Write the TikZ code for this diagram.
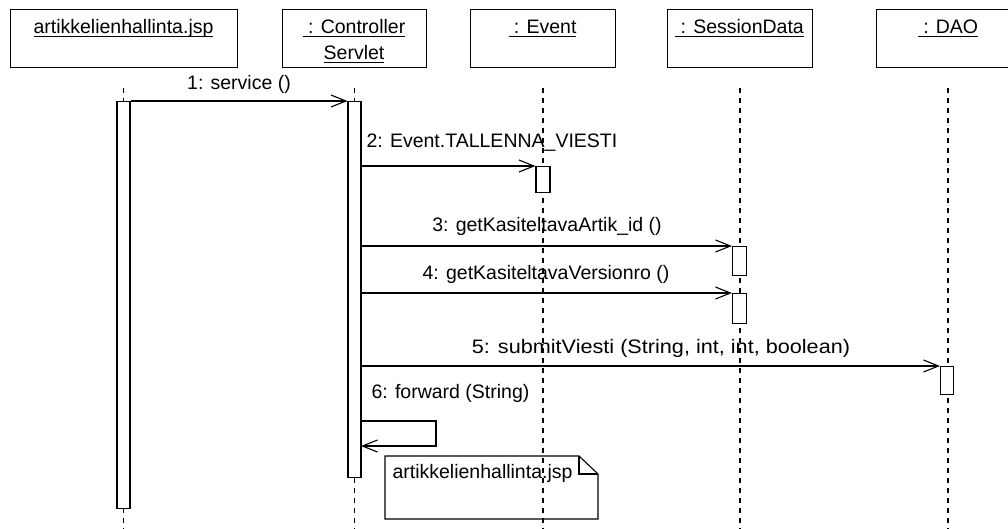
\documentclass[tikz,border=0pt]{standalone}
\usepackage{fontspec}
\usepackage{graphicx}
\setmainfont{Liberation Sans}
\usetikzlibrary{arrows.meta}
\newcommand{\myul}[1]{\setbox0\hbox{#1}\rlap{\rule[-3.2pt]{\wd0}{1.1pt}}\box0}
\begin{document}
\begin{tikzpicture}[x=1pt,y=-1pt,line width=1.1pt,
  font=\fontsize{19.5}{23}\selectfont,
  objbox/.style={draw,fill=white,rectangle,inner sep=0pt,anchor=north west},
  actbox/.style={draw,fill=white,rectangle,inner sep=0pt,minimum width=13pt,anchor=north},
  lifeline/.style={dash pattern=on 5pt off 5pt},
  msg/.style={-{Straight Barb[length=15pt,width=12pt]}},
  lbl/.style={inner sep=0pt}]
\useasboundingbox (0,0) rectangle (1008,529);
% object boxes
\node[objbox,minimum width=227pt,minimum height=58pt] (jsp) at (10,9) {};
\node[objbox,minimum width=144pt,minimum height=58pt] (ctl) at (282,9) {};
\node[objbox,minimum width=145pt,minimum height=58pt] (evt) at (470,9) {};
\node[objbox,minimum width=145pt,minimum height=58pt] (ses) at (667,9) {};
\node[objbox,minimum width=146pt,minimum height=58pt] (dao) at (876,9) {};
\node[lbl,anchor=base] (tjsp) at (123.5,34) {\myul{artikkelienhallinta.jsp}};
\node[lbl,anchor=base] (tctl1) at (354,34) {\myul{\ : Controller}};
\node[lbl,anchor=base] (tctl2) at (354,60) {\myul{Servlet}};
\node[lbl,anchor=base] (tevt) at (542.5,34) {\myul{\ : Event}};
\node[lbl,anchor=base] (tses) at (739.5,34) {\myul{\ : SessionData}};
\node[lbl,anchor=base] (tdao) at (948,34) {\myul{\ : DAO}};
% lifelines
\coordinate (jspT) at (123.5,88); \coordinate (jspB) at (123.5,529);
\coordinate (ctlT) at (354.5,88); \coordinate (ctlB) at (354.5,529);
\coordinate (evtT) at (543,88);   \coordinate (evtB) at (543,529);
\coordinate (sesT) at (740,88);   \coordinate (sesB) at (740,529);
\coordinate (daoT) at (948,88);   \coordinate (daoB) at (948,529);
\draw[lifeline] (jspT) -- (jspB);
\draw[lifeline] (ctlT) -- (ctlB);
\draw[lifeline] (evtT) -- (evtB);
\draw[lifeline] (sesT) -- (sesB);
\draw[lifeline] (daoT) -- (daoB);
% activations
\node[actbox,minimum height=407pt] (aj) at (123.5,101) {};
\node[actbox,minimum height=376pt] (ac) at (354.5,101) {};
\node[actbox,minimum width=14pt,minimum height=26pt] (ae) at (543,166) {};
\node[actbox,minimum width=14pt,minimum height=29pt] (as1) at (739.5,246) {};
\node[actbox,minimum width=14pt,minimum height=30pt] (as2) at (739.5,293) {};
\node[actbox,minimum width=13pt,minimum height=28pt] (ad) at (947,366) {};
% messages
\draw[msg] (aj.north east) -- (ac.north west);
\node[lbl,anchor=base] (l1) at (239,90) {1: service ()};
\draw[msg] (ae.north west -| ac.east) -- (ae.north west);
\node[lbl,anchor=base west] (l2) at (366,148) {2: Event.TALLENNA\_VIESTI};
\draw[msg] (as1.north west -| ac.east) -- (as1.north west);
\node[lbl,anchor=base] (l3) at (547,232) {3: getKasiteltavaArtik\_id ()};
\draw[msg] (as2.north west -| ac.east) -- (as2.north west);
\node[lbl,anchor=base] (l4) at (546,279) {4: getKasiteltavaVersionro ()};
\draw[msg] (ad.north west -| ac.east) -- (ad.north west);
\node[lbl,anchor=base] (l5) at (661,353) {\scalebox{1.11}[1]{5: submitViesti (String, int, int, boolean)}};
% self message
\coordinate (s0) at (361,421);
\coordinate (s1) at (436,421);
\coordinate (s2) at (436,446);
\coordinate (s3) at (361,446);
\draw[msg] (s0) -- (s1) -- (s2) -- (s3);
\node[lbl,anchor=base west] (l6) at (371,398) {6: forward (String)};
% note
\coordinate (n1) at (385,456); \coordinate (n2) at (579,456);
\coordinate (n3) at (598,474); \coordinate (n4) at (598,519);
\coordinate (n5) at (385,519); \coordinate (n6) at (579,474);
\draw (n1) -- (n2) -- (n3) -- (n4) -- (n5) -- cycle;
\draw (n2) -- (n6) -- (n3);
\node[lbl,anchor=base west] (nt) at (392,478) {artikkelienhallinta.jsp};
\end{tikzpicture}
\end{document}
